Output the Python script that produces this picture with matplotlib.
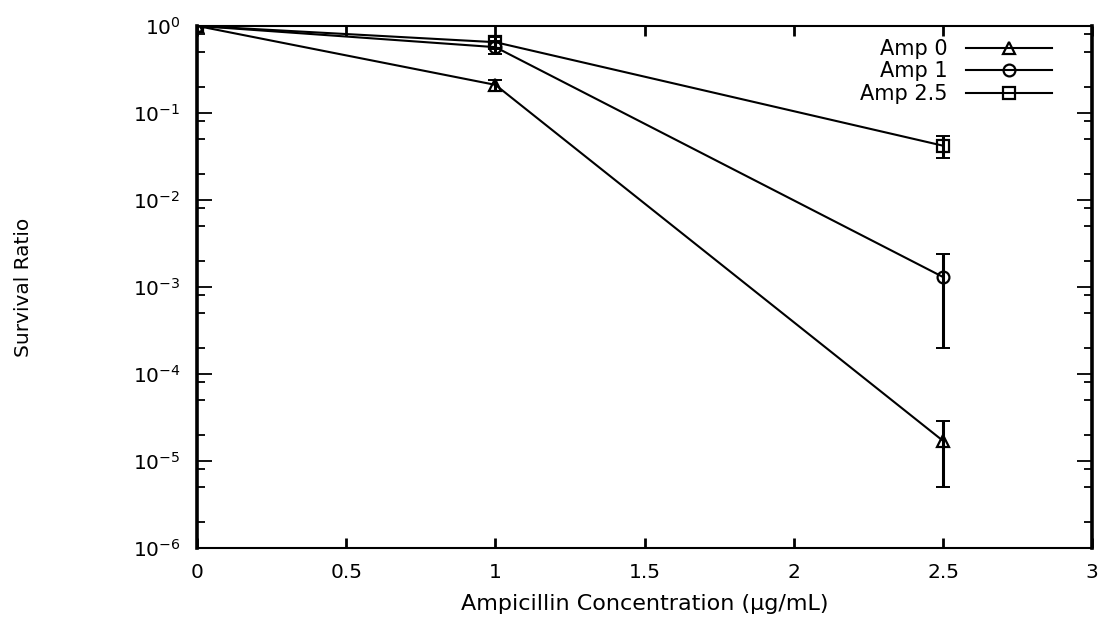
import numpy as np
import matplotlib.pyplot as plt
from matplotlib.ticker import LogLocator, LogFormatterMathtext

plt.rcParams['font.family'] = ['DejaVu Sans']
plt.rcParams['mathtext.fontset'] = 'dejavusans'

# === data ===
conc = [0.0, 1.0, 2.5]
labels = ["Amp 0", "Amp 1", "Amp 2.5"]
amp0 = [1.0, 0.21, 1.7e-5]
amp0_err = [0.0, 0.03, 1.2e-5]
amp1 = [1.0, 0.57, 1.3e-3]
amp1_err = [0.0, 0.10, 1.1e-3]
amp25 = [1.0, 0.65, 0.042]
amp25_err = [0.0, 0.10, 0.012]
markers = ["^", "o", "s"]
xtick_labels = ["0", "0.5", "1", "1.5", "2", "2.5", "3"]

series = [(amp0, amp0_err), (amp1, amp1_err), (amp25, amp25_err)]

fig = plt.figure(figsize=(11.01, 6.17), dpi=100)
ax = fig.add_axes([0.179, 0.112, 0.813, 0.846])

handles = []
for (vals, errs), lab, mk in zip(series, labels, markers):
    ax.errorbar(conc, vals, yerr=errs, fmt="none", ecolor="black",
                elinewidth=2.2, capsize=4.8, capthick=1.4)
    h, = ax.plot(conc, vals, color="black", lw=1.5, marker=mk, ms=8.5,
                 mfc="none", mec="black", mew=1.6, label=lab)
    handles.append(h)

ax.set_yscale("log")
ax.set_xlim(0, 3)
ax.set_ylim(1e-6, 1)
ax.set_xticks(np.arange(0, 3.01, 0.5))
ax.set_xticklabels(xtick_labels)
ax.yaxis.set_major_locator(LogLocator(base=10, numticks=10))
ax.yaxis.set_major_formatter(LogFormatterMathtext())
ax.yaxis.set_minor_locator(LogLocator(base=10, subs=[2, 5, 8], numticks=10))
ax.xaxis.get_offset_text().set_visible(False)
ax.yaxis.get_offset_text().set_visible(False)

ax.tick_params(which="both", direction="in", top=True, right=True, labelsize=14.5)
ax.tick_params(axis="x", which="major", length=7, width=2.0, pad=11)
ax.tick_params(axis="x", which="minor", length=0)
ax.tick_params(axis="y", which="major", length=11, width=1.3, pad=12)
ax.tick_params(axis="y", which="minor", length=6, width=1.3)
for side in ["left", "right"]:
    ax.spines[side].set_linewidth(2.6)
for side in ["top", "bottom"]:
    ax.spines[side].set_linewidth(1.5)

ax.set_xlabel("Ampicillin Concentration (\u03bcg/mL)", fontsize=16)
ax.xaxis.set_label_coords(0.5, -0.088)
ax.set_ylabel("Survival Ratio", fontsize=14.5)
ax.yaxis.set_label_coords(-0.183, 0.5)

ax.legend(handles=handles, loc="upper right", frameon=False, markerfirst=False,
          fontsize=15, handlelength=4.1, handletextpad=0.9, labelspacing=0.12,
          borderpad=0, borderaxespad=0, bbox_to_anchor=(0.955, 0.975))

fig.savefig("out.png", dpi=100)
